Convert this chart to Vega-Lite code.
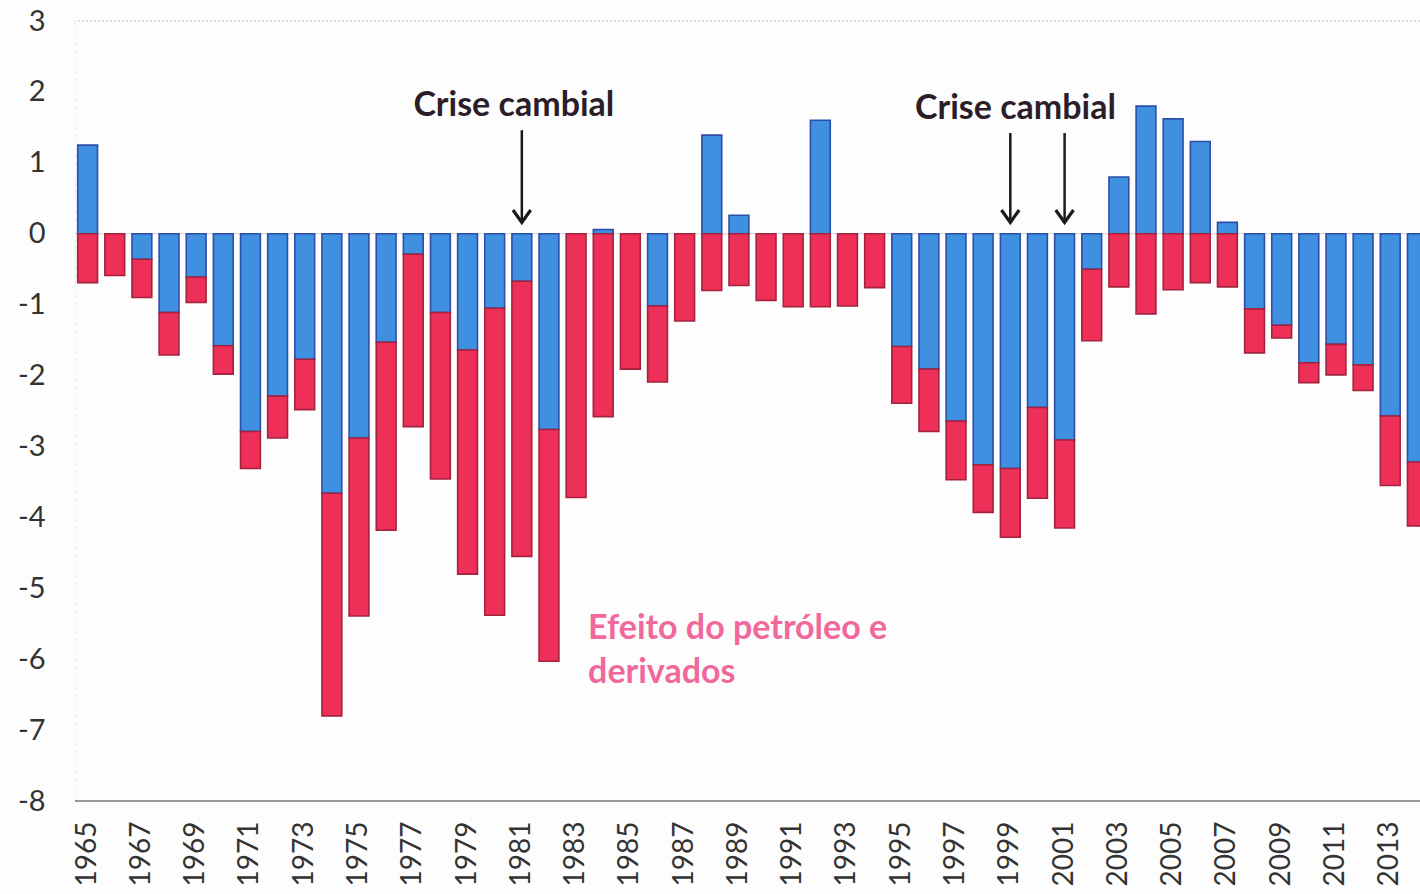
{
  "$schema": "https://vega.github.io/schema/vega-lite/v6.json",
  "autosize": {"type": "none"},
  "width": 1345,
  "height": 780,
  "padding": {"left": 75, "top": 21, "right": 0, "bottom": 93},
  "background": "#fdfdfd",
  "config": {"view": {"stroke": null}},
  "datasets": {
    "bars": [
      {"year":1965,"series":"Demais","value":1.25},{"year":1965,"series":"Petróleo","value":-0.69},
      {"year":1966,"series":"Demais","value":0},{"year":1966,"series":"Petróleo","value":-0.59},
      {"year":1967,"series":"Demais","value":-0.36},{"year":1967,"series":"Petróleo","value":-0.54},
      {"year":1968,"series":"Demais","value":-1.11},{"year":1968,"series":"Petróleo","value":-0.6},
      {"year":1969,"series":"Demais","value":-0.61},{"year":1969,"series":"Petróleo","value":-0.36},
      {"year":1970,"series":"Demais","value":-1.58},{"year":1970,"series":"Petróleo","value":-0.4},
      {"year":1971,"series":"Demais","value":-2.79},{"year":1971,"series":"Petróleo","value":-0.52},
      {"year":1972,"series":"Demais","value":-2.29},{"year":1972,"series":"Petróleo","value":-0.59},
      {"year":1973,"series":"Demais","value":-1.77},{"year":1973,"series":"Petróleo","value":-0.71},
      {"year":1974,"series":"Demais","value":-3.66},{"year":1974,"series":"Petróleo","value":-3.14},
      {"year":1975,"series":"Demais","value":-2.88},{"year":1975,"series":"Petróleo","value":-2.51},
      {"year":1976,"series":"Demais","value":-1.53},{"year":1976,"series":"Petróleo","value":-2.65},
      {"year":1977,"series":"Demais","value":-0.29},{"year":1977,"series":"Petróleo","value":-2.43},
      {"year":1978,"series":"Demais","value":-1.11},{"year":1978,"series":"Petróleo","value":-2.35},
      {"year":1979,"series":"Demais","value":-1.64},{"year":1979,"series":"Petróleo","value":-3.16},
      {"year":1980,"series":"Demais","value":-1.05},{"year":1980,"series":"Petróleo","value":-4.33},
      {"year":1981,"series":"Demais","value":-0.67},{"year":1981,"series":"Petróleo","value":-3.88},
      {"year":1982,"series":"Demais","value":-2.76},{"year":1982,"series":"Petróleo","value":-3.27},
      {"year":1983,"series":"Demais","value":0},{"year":1983,"series":"Petróleo","value":-3.72},
      {"year":1984,"series":"Demais","value":0.06},{"year":1984,"series":"Petróleo","value":-2.58},
      {"year":1985,"series":"Demais","value":0},{"year":1985,"series":"Petróleo","value":-1.91},
      {"year":1986,"series":"Demais","value":-1.02},{"year":1986,"series":"Petróleo","value":-1.07},
      {"year":1987,"series":"Demais","value":0},{"year":1987,"series":"Petróleo","value":-1.23},
      {"year":1988,"series":"Demais","value":1.39},{"year":1988,"series":"Petróleo","value":-0.8},
      {"year":1989,"series":"Demais","value":0.26},{"year":1989,"series":"Petróleo","value":-0.73},
      {"year":1990,"series":"Demais","value":0},{"year":1990,"series":"Petróleo","value":-0.94},
      {"year":1991,"series":"Demais","value":0},{"year":1991,"series":"Petróleo","value":-1.03},
      {"year":1992,"series":"Demais","value":1.6},{"year":1992,"series":"Petróleo","value":-1.03},
      {"year":1993,"series":"Demais","value":0},{"year":1993,"series":"Petróleo","value":-1.02},
      {"year":1994,"series":"Demais","value":0},{"year":1994,"series":"Petróleo","value":-0.76},
      {"year":1995,"series":"Demais","value":-1.59},{"year":1995,"series":"Petróleo","value":-0.8},
      {"year":1996,"series":"Demais","value":-1.91},{"year":1996,"series":"Petróleo","value":-0.88},
      {"year":1997,"series":"Demais","value":-2.64},{"year":1997,"series":"Petróleo","value":-0.83},
      {"year":1998,"series":"Demais","value":-3.26},{"year":1998,"series":"Petróleo","value":-0.67},
      {"year":1999,"series":"Demais","value":-3.31},{"year":1999,"series":"Petróleo","value":-0.97},
      {"year":2000,"series":"Demais","value":-2.45},{"year":2000,"series":"Petróleo","value":-1.28},
      {"year":2001,"series":"Demais","value":-2.91},{"year":2001,"series":"Petróleo","value":-1.24},
      {"year":2002,"series":"Demais","value":-0.5},{"year":2002,"series":"Petróleo","value":-1.01},
      {"year":2003,"series":"Demais","value":0.8},{"year":2003,"series":"Petróleo","value":-0.75},
      {"year":2004,"series":"Demais","value":1.8},{"year":2004,"series":"Petróleo","value":-1.13},
      {"year":2005,"series":"Demais","value":1.62},{"year":2005,"series":"Petróleo","value":-0.79},
      {"year":2006,"series":"Demais","value":1.3},{"year":2006,"series":"Petróleo","value":-0.69},
      {"year":2007,"series":"Demais","value":0.16},{"year":2007,"series":"Petróleo","value":-0.75},
      {"year":2008,"series":"Demais","value":-1.06},{"year":2008,"series":"Petróleo","value":-0.62},
      {"year":2009,"series":"Demais","value":-1.29},{"year":2009,"series":"Petróleo","value":-0.18},
      {"year":2010,"series":"Demais","value":-1.82},{"year":2010,"series":"Petróleo","value":-0.28},
      {"year":2011,"series":"Demais","value":-1.56},{"year":2011,"series":"Petróleo","value":-0.43},
      {"year":2012,"series":"Demais","value":-1.85},{"year":2012,"series":"Petróleo","value":-0.36},
      {"year":2013,"series":"Demais","value":-2.57},{"year":2013,"series":"Petróleo","value":-0.98},
      {"year":2014,"series":"Demais","value":-3.22},{"year":2014,"series":"Petróleo","value":-0.9}
    ],
    "arrows": [
      {"year":1981,"top":1.46,"tip":0.16},
      {"year":1999,"top":1.42,"tip":0.16},
      {"year":2001,"top":1.42,"tip":0.16}
    ],
    "crisis1": [{"year":1981,"label":"Crise cambial","y":1.8}],
    "crisis2": [{"year":2000,"label":"Crise cambial","y":1.76}],
    "oil": [
      {"year":1983,"label":"Efeito do petróleo e","y":-5.57},
      {"year":1983,"label":"derivados","y":-6.2}
    ]
  },
  "layer": [
    {
      "data": {"values": [{}]},
      "mark": {"type": "rule", "color": "#c4c4cc", "strokeDash": [2, 2], "strokeWidth": 1.2},
      "encoding": {"y": {"datum": 3, "type": "quantitative"}}
    },
    {
      "data": {"values": [{}]},
      "mark": {"type": "rule", "color": "#d4d4dc", "strokeWidth": 1},
      "encoding": {"y": {"datum": 0, "type": "quantitative"}}
    },
    {
      "data": {"values": [{}]},
      "mark": {"type": "rule", "color": "#7a7a7a", "strokeWidth": 1.6},
      "encoding": {"y": {"datum": -8, "type": "quantitative"}}
    },
    {
      "data": {"name": "bars"},
      "mark": {"type": "bar", "strokeWidth": 1.6, "clip": true},
      "encoding": {
        "x": {
          "field": "year", "type": "ordinal",
          "scale": {"range": [0, 1355], "paddingInner": 0.27, "paddingOuter": 0.1},
          "axis": {
            "title": null, "labelAngle": -90, "labelPadding": 20, "ticks": false, "domain": false,
            "labelFontSize": 28, "labelFont": "Lato", "labelColor": "#333333",
            "labelOverlap": false,
            "labelExpr": "datum.value % 2 == 1 ? datum.label : ''"
          }
        },
        "y": {
          "field": "value", "type": "quantitative", "stack": "zero",
          "scale": {"domain": [-8, 3], "nice": false},
          "axis": {
            "title": null, "values": [-8,-7,-6,-5,-4,-3,-2,-1,0,1,2,3], "grid": false,
            "labelExpr": "'' + datum.value",
            "domain": true, "domainColor": "#dcdce8", "domainDash": [2, 5], "domainWidth": 1,
            "ticks": false, "labelPadding": 30, "labelFontSize": 29,
            "labelFont": "Lato", "labelColor": "#333333"
          }
        },
        "color": {
          "field": "series", "type": "nominal",
          "scale": {"domain": ["Demais", "Petróleo"], "range": ["#3f90e0", "#ee2f58"]},
          "legend": null
        },
        "stroke": {
          "field": "series", "type": "nominal",
          "scale": {"domain": ["Demais", "Petróleo"], "range": ["#2c4ea8", "#a3233f"]},
          "legend": null
        },
        "order": {"field": "series", "sort": "ascending"}
      }
    },
    {
      "data": {"name": "arrows"},
      "mark": {"type": "rule", "color": "#1a1a1a", "strokeWidth": 2.5},
      "encoding": {
        "x": {"field": "year", "type": "ordinal"},
        "y": {"field": "top", "type": "quantitative"},
        "y2": {"field": "tip"}
      }
    },
    {
      "data": {"name": "arrows"},
      "mark": {"type": "point", "shape": "M-0.75,-1.05L0,0L0.75,-1.05", "filled": false, "color": "#1a1a1a", "strokeWidth": 3.2, "size": 560, "opacity": 1},
      "encoding": {
        "x": {"field": "year", "type": "ordinal"},
        "y": {"field": "tip", "type": "quantitative"}
      }
    },
    {
      "data": {"name": "crisis1"},
      "mark": {"type": "text", "font": "Lato", "fontWeight": "bold", "fontSize": 34, "color": "#2c1e28", "align": "center", "baseline": "middle", "dx": -8},
      "encoding": {
        "x": {"field": "year", "type": "ordinal"},
        "y": {"field": "y", "type": "quantitative"},
        "text": {"field": "label"}
      }
    },
    {
      "data": {"name": "crisis2"},
      "mark": {"type": "text", "font": "Lato", "fontWeight": "bold", "fontSize": 34, "color": "#2c1e28", "align": "center", "baseline": "middle", "dx": -22},
      "encoding": {
        "x": {"field": "year", "type": "ordinal"},
        "y": {"field": "y", "type": "quantitative"},
        "text": {"field": "label"}
      }
    },
    {
      "data": {"name": "oil"},
      "mark": {"type": "text", "font": "Lato", "fontWeight": "bold", "fontSize": 34, "color": "#f0689c", "align": "left", "baseline": "middle", "dx": 12},
      "encoding": {
        "x": {"field": "year", "type": "ordinal"},
        "y": {"field": "y", "type": "quantitative"},
        "text": {"field": "label"}
      }
    }
  ]
}
